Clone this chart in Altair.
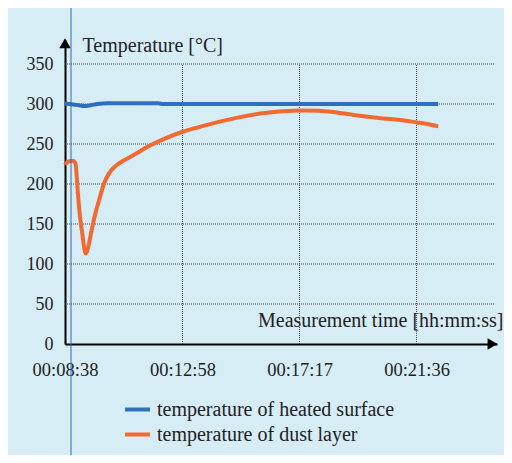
import altair as alt
import pandas as pd

# ---- data (seconds since 00:00:00) ----
blue_t = [518, 535, 548, 560, 575, 590, 610, 640, 700, 725, 735, 800, 900, 1000, 1100, 1200, 1300, 1344]
blue_v = [300.5, 299.5, 298.5, 297.5, 298.5, 300.0, 301.0, 301.0, 301.0, 300.8, 300.0, 300.0, 300.0, 300.0, 300.0, 300.0, 300.0, 300.0]

orange_t = [518, 525, 535, 541, 547, 551, 556, 560, 564, 568, 572, 578, 586, 595, 604, 615, 629, 650, 669, 706,
            744, 777, 820, 854, 900, 950, 1000, 1038, 1080, 1111, 1160, 1222, 1260, 1297, 1320, 1344]
orange_v = [224, 228, 229, 226, 185, 160, 139, 122, 113, 118, 128, 145, 165, 183, 200, 213, 222, 230, 236, 248,
            258, 265, 272, 277, 283, 288, 291, 292, 291.5, 290, 286, 282, 280, 277, 275, 272]

series_names = ["temperature of heated surface", "temperature of dust layer"]
series_colors = ["#2f6fbd", "#f26a32"]

x_tick_values = [518, 778, 1037, 1296]
x_tick_labels = ["00:08:38", "00:12:58", "00:17:17", "00:21:36"]
y_tick_values = [0, 50, 100, 150, 200, 250, 300, 350]

x_domain = [518, 1474]
y_domain = [0, 380]

FONT = "Liberation Serif"

df = pd.DataFrame(
    {"t": blue_t + orange_t,
     "value": blue_v + orange_v,
     "series": [series_names[0]] * len(blue_t) + [series_names[1]] * len(orange_t)}
)

label_expr = " : ".join(
    f"datum.value == {v} ? '{l}'" for v, l in zip(x_tick_values, x_tick_labels)
) + " : ''"

x_axis = alt.Axis(values=x_tick_values, labelExpr=label_expr, grid=False, ticks=False,
                  labelFlush=False, domainColor="black", domainWidth=2, labelFont=FONT,
                  labelFontSize=18.5, labelColor="#222", labelPadding=16,
                  title="Measurement time [hh:mm:ss]", titleFont=FONT, titleFontSize=20,
                  titleFontWeight="normal", titleColor="#222", titleAnchor="end",
                  titleAlign="right", titleBaseline="middle", titleX=438, titleY=-24)
y_axis = alt.Axis(values=y_tick_values, grid=False, ticks=False, labelFlush=False,
                  domainColor="black", domainWidth=2, labelFont=FONT, labelFontSize=18,
                  labelColor="#222", labelPadding=12,
                  title="Temperature [°C]", titleFont=FONT, titleFontSize=20,
                  titleFontWeight="normal", titleColor="#222", titleAngle=0,
                  titleAlign="left", titleBaseline="middle", titleX=17, titleY=5)

X = alt.X("t:Q", scale=alt.Scale(domain=x_domain, nice=False, zero=False), axis=x_axis)
Y = alt.Y("value:Q", scale=alt.Scale(domain=y_domain, nice=False), axis=y_axis)

# gridlines
hgrid_df = pd.DataFrame({"value": y_tick_values[1:], "t": [518] * 7, "t2": [1470] * 7})
hgrid = alt.Chart(hgrid_df).mark_rule(color="#444", strokeDash=[1, 1], strokeWidth=1).encode(
    x=X, x2="t2:Q", y=Y)
vgrid_df = pd.DataFrame({"t": x_tick_values[1:], "value": [0] * 3, "v2": [350] * 3})
vgrid = alt.Chart(vgrid_df).mark_rule(color="#444", strokeDash=[1, 1], strokeWidth=1).encode(
    x=X, y=Y, y2="v2:Q")

lines = alt.Chart(df).mark_line(strokeWidth=4, interpolate="monotone").encode(
    x=X, y=Y,
    color=alt.Color("series:N", scale=alt.Scale(domain=series_names, range=series_colors),
                    sort=series_names,
                    legend=alt.Legend(title=None, orient="none", legendX=58, legendY=355,
                                      symbolType="stroke", symbolSize=625, symbolStrokeWidth=4,
                                      labelFont=FONT, labelFontSize=20, labelColor="#222",
                                      rowPadding=-3, labelLimit=400, labelOffset=5)),
)

arrow_df = pd.DataFrame({"t": [518, 1464], "value": [376, 0], "shape": ["triangle-up", "triangle-right"]})
arrows = alt.Chart(arrow_df).mark_point(filled=True, color="black", opacity=1, size=130).encode(
    x=X, y=Y, shape=alt.Shape("shape:N", scale=None))

artifact = alt.Chart(pd.DataFrame({"a": [0]})).mark_rule(color="#2f6aa8", strokeWidth=1).encode(
    x=alt.value(6), y=alt.value(-32), y2=alt.value(420))

chart = alt.layer(hgrid, vgrid, lines, arrows, artifact).properties(
    width=432, height=304,
    autosize=alt.AutoSizeParams(type="none"),
    padding={"left": 57, "top": 32, "right": 7, "bottom": 111},
    background="#d7edf6",
).configure(font=FONT).configure_view(stroke=None)

chart.save("out.html", embed_options={"renderer": "svg", "actions": False})
